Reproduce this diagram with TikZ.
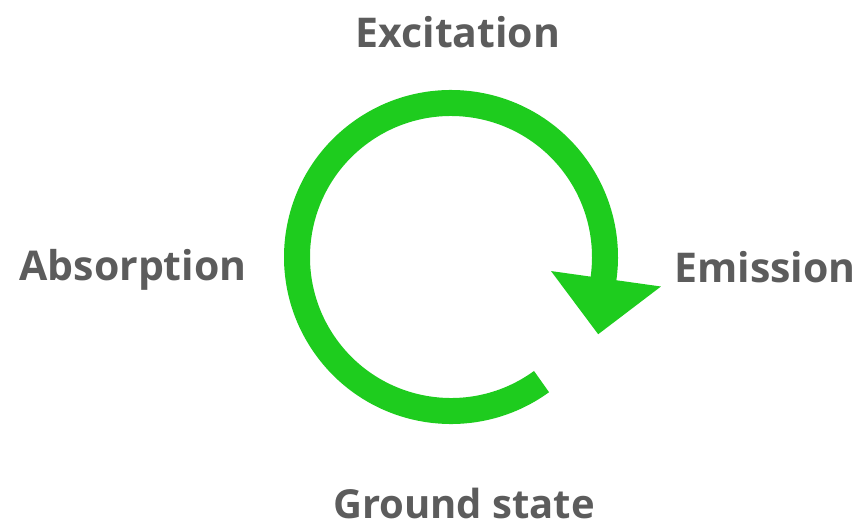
\documentclass[tikz,border=0pt]{standalone}
\usepackage{fontspec}
\setmainfont{Open Sans}
\usetikzlibrary{calc}
\definecolor{ringgreen}{RGB}{30,204,30}
\definecolor{labelgray}{RGB}{92,92,92}
\tikzset{
  label text/.style={font=\fontsize{41}{48}\selectfont\bfseries, text=labelgray, anchor=base, inner sep=0pt},
  ring/.style={draw=ringgreen, line width=26pt, line cap=butt},
  headfill/.style={fill=ringgreen, draw=none}
}
\begin{document}
\begin{tikzpicture}[x=1pt,y=-1pt]
\useasboundingbox (0,0) rectangle (866,529);
\coordinate (c) at (451,257);
\node[label text] (exc) at (458,48) {Excitation};
\node[label text] (abs) at (133,280) {Absorption};
\node[label text] (emi) at (765,282) {Emission};
\node[label text, font=\fontsize{40}{48}\selectfont\bfseries] (gnd) at (464,518) {Ground state};
\coordinate (tail) at ($(c)+(54:154)$);
\coordinate (hl) at ($(c)+(8:101)$);
\coordinate (hr) at ($(c)+(8:212)$);
\coordinate (tip) at ($(c)+(8:156.5)+(98:56)$);
\draw[ring] (tail) arc[start angle=54, end angle=369, radius=154];
\fill[headfill] (hl) -- (hr) -- (tip) -- cycle;
\end{tikzpicture}
\end{document}
